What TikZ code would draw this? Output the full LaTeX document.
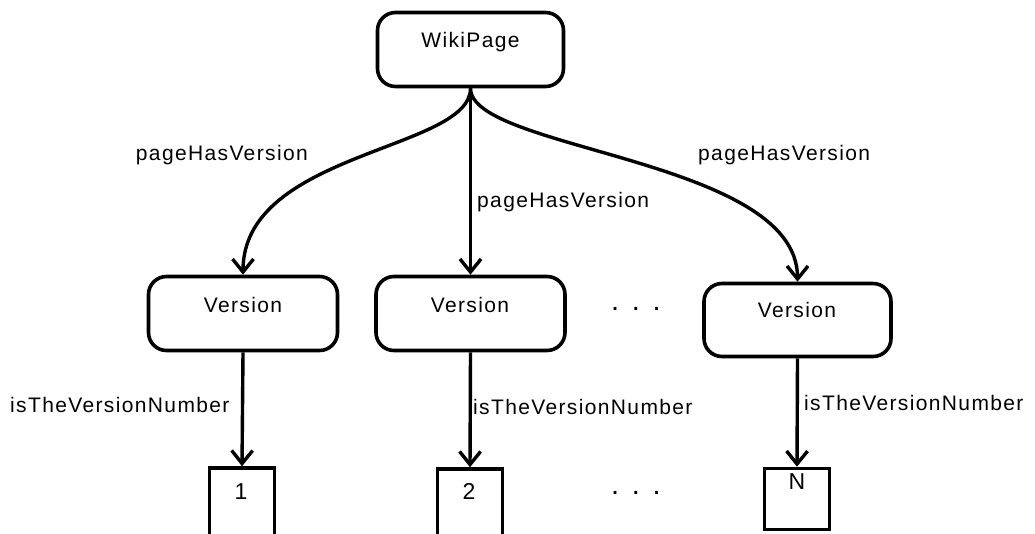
\documentclass[tikz,border=0pt]{standalone}
\usepackage{fontspec}
\setmainfont{Liberation Sans}[LetterSpace=6.5]
\usetikzlibrary{arrows.meta}
\begin{document}
\begin{tikzpicture}[x=1pt,y=-1pt,
  rbox/.style={draw, line width=3.6pt, rounded corners=18pt, inner sep=0pt},
  sbox/.style={draw, line width=3.6pt, inner sep=0pt},
  txt/.style={font=\fontsize{21}{25}\selectfont, inner sep=0pt, anchor=base},
  num/.style={font=\fontsize{23}{27}\selectfont, inner sep=0pt, anchor=base},
  dots/.style={font=\fontsize{29}{33}\selectfont, inner sep=0pt, anchor=base},
  lbl/.style={font=\fontsize{21}{25}\selectfont, inner sep=0pt},
  arr/.style={line width=3.4pt, -{Straight Barb[length=13pt,width=21pt,line width=3.4pt]}}]
\useasboundingbox (0,0) rectangle (1035,533);
\clip (0,0) rectangle (1035,533);
% boxes
\node[rbox, minimum width=186, minimum height=74] (wp) at (470.5,49.5) {};
\node[rbox, minimum width=189, minimum height=74] (v1) at (243,313.5) {};
\node[rbox, minimum width=189, minimum height=74] (v2) at (470.5,313.5) {};
\node[rbox, minimum width=187, minimum height=73] (v3) at (797.5,320) {};
\node[sbox, minimum width=65, minimum height=80] (b1) at (242,508) {};
\node[sbox, minimum width=65, minimum height=80] (b2) at (470,509) {};
\node[sbox, minimum width=65, minimum height=61] (bN) at (797,499) {};
% texts
\node[txt] (twp) at (470.5,47) {WikiPage};
\node[txt] (tv1) at (243,312) {Version};
\node[txt] (tv2) at (470,312) {Version};
\node[txt] (tv3) at (797,317) {Version};
\node[num] (t1) at (241,499) {1};
\node[num] (t2) at (469,499) {2};
\node[num] (tN) at (797,489) {N};
% dots
\node[dots] (d1) at (636,310) {.\hspace{12.7pt}.\hspace{12.7pt}.};
\node[dots] (d2) at (636,494) {.\hspace{12.7pt}.\hspace{12.7pt}.};
% connectors
\draw[arr] (wp.south) .. controls +(0,62) and +(0,-123) .. (v1.north);
\draw[arr] (wp.south) -- (v2.north);
\draw[arr] (wp.south) .. controls +(0,62) and +(0,-123) .. (v3.north);
\draw[arr] (v1.south) -- (b1.north);
\draw[arr] (v2.south) -- (b2.north);
\draw[arr] (v3.south) -- (bN.north);
% connector labels
\node[lbl, anchor=base east] (l1) at (308,160) {pageHasVersion};
\node[lbl, anchor=base west] (l2) at (477,207) {pageHasVersion};
\node[lbl, anchor=base west] (l3) at (698,160) {pageHasVersion};
\node[lbl, anchor=base west] (l4) at (10,412) {isTheVersionNumber};
\node[lbl, anchor=base west] (l5) at (473,414) {isTheVersionNumber};
\node[lbl, anchor=base west] (l6) at (804,410) {isTheVersionNumber};
\end{tikzpicture}
\end{document}
